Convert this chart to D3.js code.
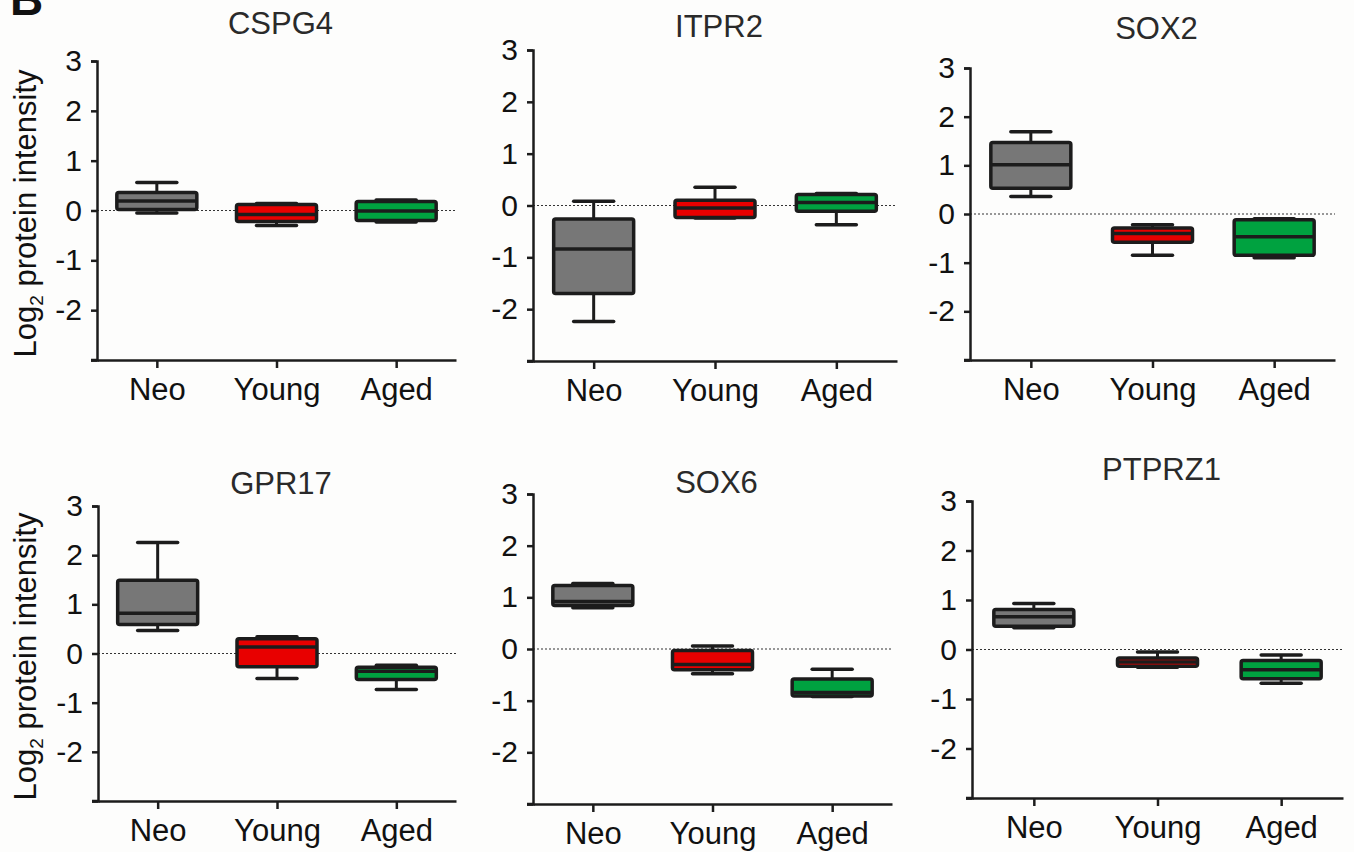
<!DOCTYPE html>
<html>
<head>
<meta charset="utf-8">
<script src="https://cdnjs.cloudflare.com/ajax/libs/d3/7.8.5/d3.min.js"></script>
<style>
  body { margin: 0; background: #fdfdfc; }
  svg { display: block; font-family: "Liberation Sans", Arial, sans-serif; }
</style>
</head>
<body>
<svg width="1354" height="852"></svg>
<script>
// groups and genes
var groups = ["Neo", "Young", "Aged"];
var genes = ["CSPG4", "ITPR2", "SOX2", "GPR17", "SOX6", "PTPRZ1"];
var yTicks = [-3, -2, -1, 0, 1, 2, 3];

// box stats per group: [min, q1, median, q3, max]
var cspg4  = [[-0.05, 0.02, 0.19, 0.36, 0.56], [-0.30, -0.22, -0.08, 0.12, 0.14], [-0.23, -0.20, -0.01, 0.18, 0.21]];
var itpr2  = [[-2.24, -1.70, -0.84, -0.26, 0.08], [-0.24, -0.23, -0.05, 0.10, 0.35], [-0.37, -0.11, 0.06, 0.21, 0.23]];
var sox2   = [[0.36, 0.53, 1.01, 1.47, 1.69], [-0.85, -0.58, -0.40, -0.29, -0.22], [-0.90, -0.85, -0.47, -0.12, -0.10]];
var gpr17  = [[0.47, 0.59, 0.82, 1.49, 2.26], [-0.51, -0.27, 0.13, 0.30, 0.34], [-0.73, -0.53, -0.36, -0.28, -0.24]];
var sox6   = [[0.80, 0.84, 0.92, 1.23, 1.27], [-0.48, -0.40, -0.30, -0.03, 0.06], [-0.92, -0.91, -0.84, -0.58, -0.39]];
var ptprz1 = [[0.44, 0.47, 0.66, 0.81, 0.93], [-0.36, -0.34, -0.25, -0.17, -0.05], [-0.68, -0.59, -0.41, -0.22, -0.11]];
var stats = [cspg4, itpr2, sox2, gpr17, sox6, ptprz1];

var fills = { Neo: "#777777", Young: "#e80000", Aged: "#00a240" };
var ink = "#1c1c1c";

// panel frames: y-axis x, right end, y of +3, y of -3, title baseline
var frames = [
  { left: 97,  right: 456,  top: 61,  bottom: 360, titleY: 34 },
  { left: 533, right: 897,  top: 50,  bottom: 361, titleY: 37 },
  { left: 970, right: 1335, top: 68,  bottom: 360, titleY: 39 },
  { left: 98,  right: 456,  top: 506, bottom: 801, titleY: 494 },
  { left: 533, right: 892,  top: 494, bottom: 804, titleY: 493 },
  { left: 972, right: 1343, top: 501, bottom: 798, titleY: 480 }
];

var svg = d3.select("svg");

// cut-off panel letter (clipped at the top edge, as in the source figure)
svg.append("text")
    .attr("x", 10).attr("y", 15)
    .attr("font-size", 46).attr("font-weight", "bold")
    .attr("fill", "#111")
    .text("B");

genes.forEach(function(gene, i) {
  var f = frames[i];
  var g = svg.append("g");

  var y = d3.scaleLinear().domain([-3, 3]).range([f.bottom, f.top]);
  var x = d3.scalePoint().domain(groups).range([f.left, f.right]).padding(0.5);

  // title
  g.append("text")
      .attr("x", (f.left + f.right) / 2 + 4)
      .attr("y", f.titleY)
      .attr("text-anchor", "middle")
      .attr("font-size", 31)
      .attr("fill", "#2a2a2a")
      .text(gene);

  // zero reference line
  g.append("line")
      .attr("x1", f.left).attr("x2", f.right)
      .attr("y1", y(0)).attr("y2", y(0))
      .attr("stroke", "#333").attr("stroke-width", 1.2)
      .attr("stroke-dasharray", "2,2");

  // y axis
  var yAxis = g.append("g")
      .attr("transform", "translate(" + f.left + ",0)")
      .call(d3.axisLeft(y).tickValues(yTicks).tickSize(6).tickPadding(9)
        .tickFormat(function(d) { return d === -3 ? "" : d; }));

  // x axis
  var xAxis = g.append("g")
      .attr("transform", "translate(0," + f.bottom + ")")
      .call(d3.axisBottom(x).tickSize(8).tickSizeOuter(0).tickPadding(10));
  g.append("line")
      .attr("x1", f.left - 6).attr("x2", f.left)
      .attr("y1", f.bottom).attr("y2", f.bottom)
      .attr("stroke", ink).attr("stroke-width", 2.5);

  [yAxis, xAxis].forEach(function(a) {
    a.selectAll("path.domain").attr("stroke", ink).attr("stroke-width", 2.5);
    a.selectAll(".tick line").attr("stroke", ink).attr("stroke-width", 2.5);
    a.selectAll(".tick text").attr("fill", "#111")
        .attr("font-family", "'Liberation Sans', Arial, sans-serif");
  });
  yAxis.selectAll(".tick text").attr("font-size", 30);
  xAxis.selectAll(".tick text").attr("font-size", 31);

  // boxes
  var boxW = 80, capW = 40;
  var box = g.selectAll("g.box")
    .data(groups.map(function(grp, j) { return { grp: grp, s: stats[i][j] }; }))
    .enter().append("g").attr("class", "box");

  box.append("line")
      .attr("x1", function(d) { return x(d.grp); })
      .attr("x2", function(d) { return x(d.grp); })
      .attr("y1", function(d) { return y(d.s[0]); })
      .attr("y2", function(d) { return y(d.s[4]); })
      .attr("stroke", ink).attr("stroke-width", 3);

  box.selectAll("line.cap")
    .data(function(d) { return [d.s[0], d.s[4]].map(function(v) { return { grp: d.grp, v: v }; }); })
    .enter().append("line").attr("class", "cap")
      .attr("x1", function(d) { return x(d.grp) - capW / 2; })
      .attr("x2", function(d) { return x(d.grp) + capW / 2; })
      .attr("y1", function(d) { return y(d.v); })
      .attr("y2", function(d) { return y(d.v); })
      .attr("stroke", ink).attr("stroke-width", 3.5)
      .attr("stroke-linecap", "round");

  box.append("rect")
      .attr("x", function(d) { return x(d.grp) - boxW / 2; })
      .attr("width", boxW)
      .attr("y", function(d) { return y(d.s[3]); })
      .attr("height", function(d) { return y(d.s[1]) - y(d.s[3]); })
      .attr("rx", 2)
      .attr("fill", function(d) { return fills[d.grp]; })
      .attr("stroke", ink).attr("stroke-width", 3.5);

  box.append("line")
      .attr("x1", function(d) { return x(d.grp) - boxW / 2; })
      .attr("x2", function(d) { return x(d.grp) + boxW / 2; })
      .attr("y1", function(d) { return y(d.s[2]); })
      .attr("y2", function(d) { return y(d.s[2]); })
      .attr("stroke", ink).attr("stroke-width", 3.5);

  // y label only on left column
  if (i % 3 === 0) {
    var lbl = g.append("text")
        .attr("transform", "translate(36," + ((f.top + f.bottom) / 2 + 3) + ") rotate(-90)")
        .attr("text-anchor", "middle")
        .attr("font-size", 31)
        .attr("fill", "#111");
    lbl.append("tspan").text("Log");
    lbl.append("tspan").attr("font-size", 19).attr("dy", 7).text("2");
    lbl.append("tspan").attr("dy", -7).text(" protein intensity");
  }
});
</script>
</body>
</html>
